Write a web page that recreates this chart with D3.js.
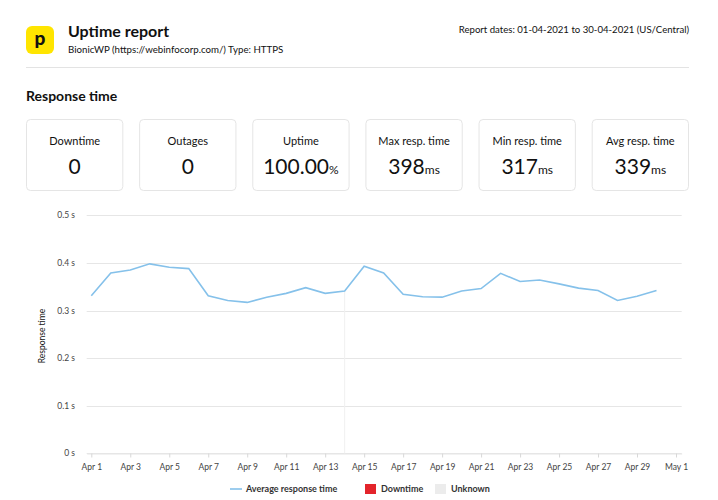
<!DOCTYPE html>
<html>
<head>
<meta charset="utf-8">
<script src="https://cdn.jsdelivr.net/npm/d3@7"></script>
<style>
  body { margin: 0; background: #fff; }
  svg text { font-family: Lato, "Open Sans", sans-serif; fill: #111; }
</style>
</head>
<body>
<div id="report"></div>
<script>
// data
var days = ["2021-04-01", "2021-04-02", "2021-04-03", "2021-04-04", "2021-04-05", "2021-04-06",
    "2021-04-07", "2021-04-08", "2021-04-09", "2021-04-10", "2021-04-11", "2021-04-12",
    "2021-04-13", "2021-04-14", "2021-04-15", "2021-04-16", "2021-04-17", "2021-04-18",
    "2021-04-19", "2021-04-20", "2021-04-21", "2021-04-22", "2021-04-23", "2021-04-24",
    "2021-04-25", "2021-04-26", "2021-04-27", "2021-04-28", "2021-04-29", "2021-04-30"];
var respMs = [331, 379, 385, 398, 391, 388, 331, 321, 317, 328, 336, 348, 336, 341, 393,
    379, 334, 329, 328, 341, 346, 378, 361, 364, 356, 347, 342, 321, 330, 342];
var cardLabels = ["Downtime", "Outages", "Uptime", "Max resp. time", "Min resp. time", "Avg resp. time"];
var cardValues = ["0", "0", "100.00", "398", "317", "339"];
var cardUnits = ["", "", "%", "ms", "ms", "ms"];
var yTicks = [0, 0.1, 0.2, 0.3, 0.4, 0.5];
var legendLabels = ["Average response time", "Downtime", "Unknown"];
var hoverDay = "2021-04-14";

var width = 718, height = 500;
var parse = d3.timeParse("%Y-%m-%d");

var svg = d3.select("#report")
    .append("svg")
    .attr("width", width)
    .attr("height", height);

// header
var logo = svg.append("g").attr("transform", "translate(26,26)");
logo.append("rect")
    .attr("width", 28)
    .attr("height", 28)
    .attr("rx", 6)
    .attr("fill", "#ffe500");
logo.append("text")
    .attr("x", 14)
    .attr("y", 18.5)
    .attr("text-anchor", "middle")
    .style("font-size", "19px")
    .style("font-weight", "900")
    .text("p");

svg.append("text")
    .attr("x", 68)
    .attr("y", 37)
    .style("font-size", "16px")
    .style("font-weight", "bold")
    .text("Uptime report");
svg.append("text")
    .attr("x", 68)
    .attr("y", 52.5)
    .style("font-size", "9.7px")
    .text("BionicWP (https://webinfocorp.com/) Type: HTTPS");
svg.append("text")
    .attr("x", 689)
    .attr("y", 33)
    .attr("text-anchor", "end")
    .style("font-size", "9.6px")
    .text("Report dates: 01-04-2021 to 30-04-2021 (US/Central)");
svg.append("line")
    .attr("x1", 26).attr("x2", 689)
    .attr("y1", 67.5).attr("y2", 67.5)
    .style("stroke", "#e3e3e3");

svg.append("text")
    .attr("x", 26)
    .attr("y", 101)
    .style("font-size", "14px")
    .style("font-weight", "bold")
    .text("Response time");

// stat cards
var cardX = d3.scaleBand()
    .domain(cardLabels)
    .range([26, 689])
    .paddingInner(0.14);

var cards = svg.selectAll(".card")
    .data(cardLabels)
    .enter().append("g")
    .attr("class", "card")
    .attr("transform", function (d) { return "translate(" + cardX(d) + ",119)"; });
cards.append("rect")
    .attr("x", 0.5).attr("y", 0.5)
    .attr("width", cardX.bandwidth() - 1)
    .attr("height", 71)
    .attr("rx", 4)
    .attr("fill", "#fff")
    .style("stroke", "#e5e5e5");
cards.append("text")
    .attr("x", cardX.bandwidth() / 2)
    .attr("y", 26)
    .attr("text-anchor", "middle")
    .style("font-size", "11px")
    .text(function (d) { return d; });
var val = cards.append("text")
    .attr("x", cardX.bandwidth() / 2)
    .attr("y", 55)
    .attr("text-anchor", "middle")
    .style("font-size", "21px");
val.append("tspan").text(function (d, i) { return cardValues[i]; });
val.append("tspan")
    .style("font-size", "12px")
    .text(function (d, i) { return cardUnits[i]; });

// chart
var x = d3.scaleTime()
    .domain([parse("2021-04-01"), parse("2021-05-01")])
    .range([91.3, 676]);
var left = 86.7, right = 681.7;
x.domain([x.invert(left), x.invert(right)]).range([left, right]);

var y = d3.scaleLinear()
    .domain([0, 0.5])
    .range([453.3, 215.3]);

var grid = svg.append("g").attr("class", "grid");
grid.selectAll("line")
    .data(yTicks)
    .enter().append("line")
    .attr("x1", left).attr("x2", right)
    .attr("y1", function (d) { return Math.round(y(d)) + 0.5; })
    .attr("y2", function (d) { return Math.round(y(d)) + 0.5; })
    .style("stroke", "#e6e6e6");

grid.selectAll("text")
    .data(yTicks)
    .enter().append("text")
    .attr("x", 75)
    .attr("y", function (d) { return y(d) + 3; })
    .attr("text-anchor", "end")
    .style("font-size", "8.5px")
    .style("fill", "#444")
    .text(function (d) { return d === 0 ? "0 s" : d.toFixed(1) + " s"; });

svg.append("text")
    .attr("transform", "translate(45,336) rotate(-90)")
    .attr("text-anchor", "middle")
    .style("font-size", "8.5px")
    .text("Response time");

var xAxis = svg.append("g")
    .attr("transform", "translate(0," + (Math.round(y(0)) + 0.5) + ")")
    .call(d3.axisBottom(x)
        .ticks(d3.timeDay.filter(function (d) { return d.getDate() % 2 === 1 && d.getDate() < 31; }))
        .tickFormat(d3.timeFormat("%b %-d"))
        .tickSize(4)
        .tickSizeOuter(0));
xAxis.select(".domain").style("stroke", "#e6e6e6");
xAxis.selectAll(".tick line").style("stroke", "#d8d8d8");
xAxis.selectAll(".tick text")
    .attr("dy", "1.1em")
    .style("font-size", "8.5px")
    .style("fill", "#444")
    .style("font-family", "Lato, sans-serif");

var points = days.map(function (d, i) { return {date: parse(d), v: respMs[i] / 1000}; });

// faint hover guide
var hp = points[days.indexOf(hoverDay)];
svg.append("line")
    .attr("x1", x(hp.date)).attr("x2", x(hp.date))
    .attr("y1", y(hp.v)).attr("y2", y(0))
    .style("stroke", "#f0f0f0");

svg.append("path")
    .datum(points)
    .attr("fill", "none")
    .style("stroke", "#85c1ea")
    .style("stroke-width", 1.6)
    .attr("d", d3.line()
        .x(function (d) { return x(d.date); })
        .y(function (d) { return y(d.v); }));

// legend
var legend = svg.append("g").attr("transform", "translate(0,489)");
legend.append("line")
    .attr("x1", 230).attr("x2", 242)
    .attr("y1", 0).attr("y2", 0)
    .style("stroke", "#85c1ea")
    .style("stroke-width", 1.6);
legend.append("rect")
    .attr("x", 365).attr("y", -5)
    .attr("width", 11).attr("height", 10)
    .attr("fill", "#e3242b");
legend.append("rect")
    .attr("x", 435).attr("y", -5)
    .attr("width", 11).attr("height", 10)
    .attr("fill", "#ececec");
legend.selectAll("text")
    .data(legendLabels)
    .enter().append("text")
    .attr("x", function (d, i) { return [246, 381, 451][i]; })
    .attr("y", 3)
    .style("font-size", "9px")
    .style("font-weight", "bold")
    .style("fill", "#333")
    .text(function (d) { return d; });
</script>
</body>
</html>
